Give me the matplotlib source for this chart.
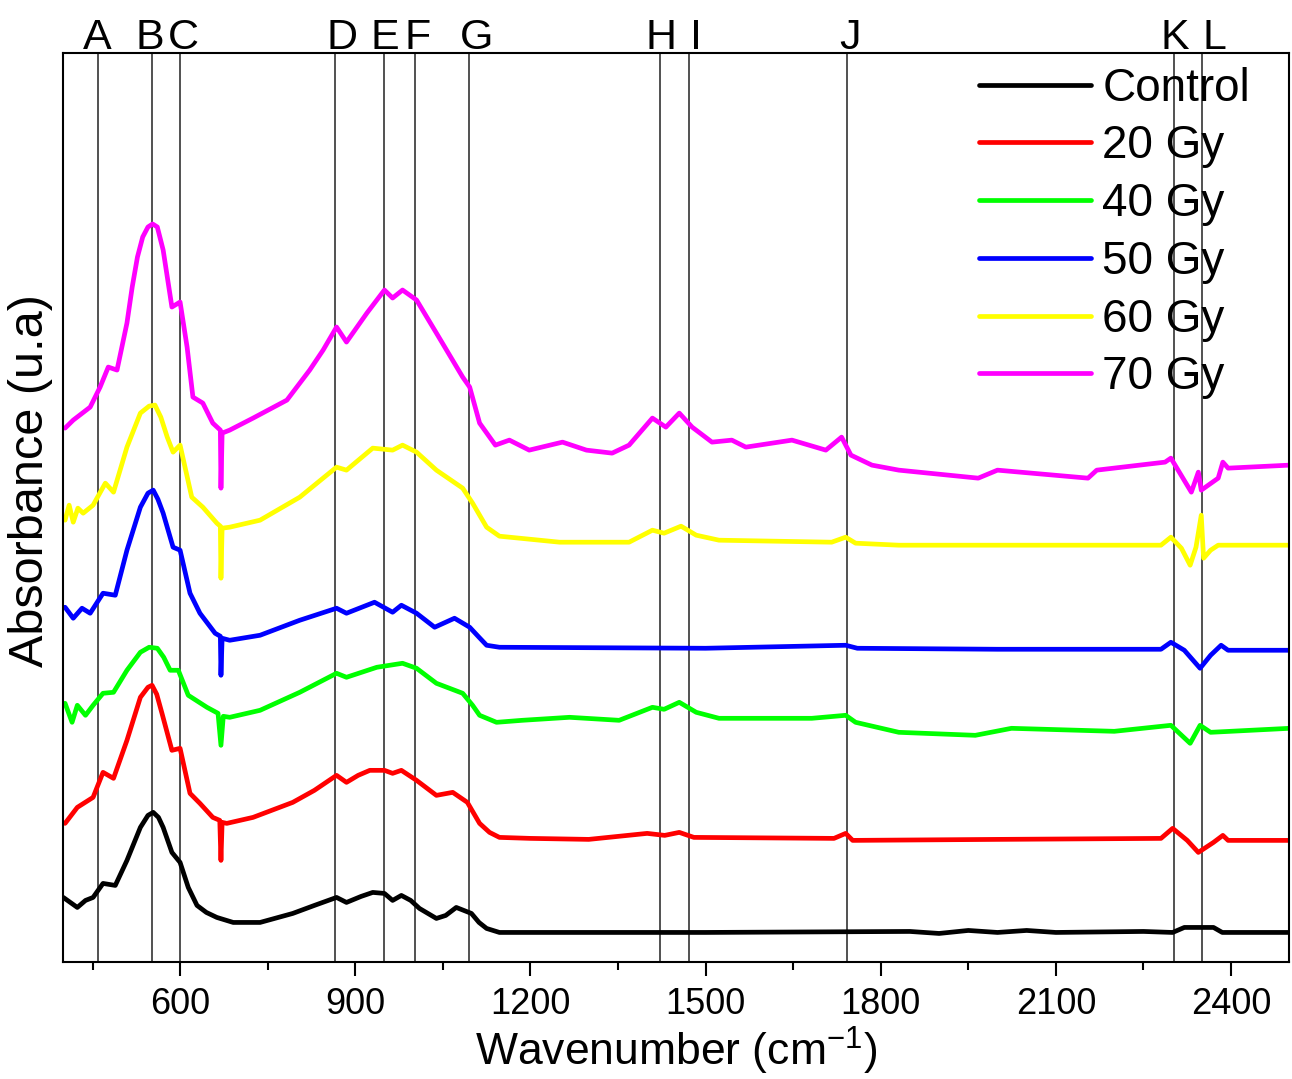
import matplotlib
matplotlib.use("Agg")
import matplotlib.pyplot as plt
from matplotlib.ticker import MultipleLocator

plt.rcParams['font.family'] = ['Liberation Sans', 'DejaVu Sans']
plt.rcParams['mathtext.fontset'] = 'custom'
plt.rcParams['mathtext.rm'] = 'Liberation Sans'
plt.rcParams['mathtext.it'] = 'Liberation Sans:italic'

# wavenumber (cm-1) / absorbance (u.a, stacked as in the figure)
wn_control = [400, 412, 424, 438, 451, 468, 489, 509, 532, 545, 554, 563, 571, 586, 600, 614, 629, 645,
              663, 691, 737, 793, 830, 868, 885, 910, 930, 950, 964, 979, 995, 1010, 1039, 1055, 1073,
              1099, 1112, 1125, 1147, 1500, 1850, 1900, 1950, 2000, 2050, 2100, 2250, 2300, 2320, 2370,
              2385, 2500]
ab_control = [0.065, 0.060, 0.055, 0.062, 0.065, 0.079, 0.077, 0.102, 0.135, 0.147, 0.150, 0.145, 0.135,
              0.110, 0.100, 0.075, 0.057, 0.050, 0.045, 0.040, 0.040, 0.049, 0.057, 0.065, 0.060, 0.066,
              0.070, 0.069, 0.062, 0.067, 0.062, 0.054, 0.044, 0.047, 0.055, 0.049, 0.040, 0.034, 0.030,
              0.030, 0.031, 0.029, 0.032, 0.030, 0.032, 0.030, 0.031, 0.030, 0.035, 0.035, 0.030, 0.030]

wn_20 = [403, 424, 451, 468, 486, 509, 532, 545, 552, 560, 569, 586, 600, 617, 634, 656, 668, 670, 672,
         680, 725, 793, 830, 868, 885, 905, 925, 950, 964, 979, 1005, 1039, 1067, 1092, 1113, 1130, 1147,
         1200, 1300, 1400, 1430, 1455, 1480, 1720, 1740, 1752, 2000, 2280, 2300, 2325, 2344, 2370, 2386,
         2395, 2500]
ab_20 = [0.139, 0.155, 0.165, 0.190, 0.184, 0.222, 0.265, 0.275, 0.277, 0.268, 0.249, 0.212, 0.214,
         0.169, 0.159, 0.145, 0.142, 0.102, 0.140, 0.139, 0.145, 0.160, 0.172, 0.187, 0.180, 0.187,
         0.192, 0.192, 0.189, 0.192, 0.182, 0.167, 0.170, 0.160, 0.139, 0.130, 0.125, 0.124, 0.123,
         0.129, 0.127, 0.130, 0.125, 0.124, 0.129, 0.122, 0.123, 0.124, 0.134, 0.122, 0.110, 0.120,
         0.127, 0.122, 0.122]

wn_40 = [403, 415, 424, 438, 451, 468, 486, 509, 532, 547, 561, 572, 583, 597, 614, 646, 665, 670, 674,
         685, 737, 805, 868, 885, 937, 981, 1005, 1039, 1084, 1101, 1113, 1142, 1186, 1267, 1352, 1409,
         1429, 1455, 1484, 1523, 1682, 1740, 1757, 1831, 1962, 2024, 2200, 2297, 2330, 2347, 2365, 2500]
ab_40 = [0.259, 0.240, 0.257, 0.247, 0.257, 0.269, 0.270, 0.292, 0.310, 0.315, 0.314, 0.305, 0.292,
         0.292, 0.267, 0.255, 0.249, 0.217, 0.246, 0.245, 0.252, 0.270, 0.289, 0.285, 0.295, 0.299,
         0.294, 0.279, 0.269, 0.257, 0.247, 0.240, 0.242, 0.245, 0.242, 0.255, 0.253, 0.260, 0.250,
         0.244, 0.244, 0.247, 0.240, 0.230, 0.227, 0.234, 0.231, 0.237, 0.219, 0.237, 0.230, 0.234]

wn_50 = [403, 417, 432, 446, 468, 489, 509, 532, 545, 554, 562, 571, 588, 600, 617, 634, 660, 669, 670,
         672, 685, 737, 805, 868, 885, 933, 964, 979, 1005, 1036, 1070, 1096, 1112, 1125, 1147, 1500,
         1740, 1760, 2000, 2280, 2297, 2320, 2347, 2365, 2383, 2395, 2500]
ab_50 = [0.355, 0.344, 0.354, 0.349, 0.369, 0.367, 0.412, 0.455, 0.469, 0.472, 0.463, 0.449, 0.415,
         0.412, 0.369, 0.349, 0.329, 0.326, 0.287, 0.324, 0.322, 0.327, 0.342, 0.354, 0.349, 0.360,
         0.350, 0.357, 0.349, 0.335, 0.344, 0.335, 0.325, 0.317, 0.315, 0.314, 0.317, 0.314, 0.313,
         0.313, 0.320, 0.312, 0.294, 0.307, 0.317, 0.312, 0.312]

wn_60 = [403, 410, 417, 425, 434, 451, 472, 486, 509, 532, 547, 557, 567, 578, 588, 600, 620, 639, 663,
         669, 670, 672, 685, 737, 805, 868, 885, 930, 964, 981, 1005, 1039, 1084, 1101, 1125, 1147, 1250,
         1369, 1409, 1429, 1458, 1484, 1523, 1716, 1740, 1757, 1831, 2280, 2297, 2315, 2330, 2340, 2349,
         2353, 2365, 2378, 2500]
ab_60 = [0.442, 0.457, 0.440, 0.454, 0.449, 0.457, 0.479, 0.470, 0.515, 0.549, 0.556, 0.557, 0.545,
         0.525, 0.510, 0.517, 0.465, 0.455, 0.439, 0.436, 0.384, 0.434, 0.435, 0.442, 0.465, 0.495,
         0.492, 0.514, 0.512, 0.517, 0.510, 0.492, 0.474, 0.459, 0.435, 0.426, 0.420, 0.420, 0.432,
         0.429, 0.436, 0.427, 0.422, 0.420, 0.425, 0.419, 0.417, 0.417, 0.425, 0.414, 0.397, 0.415,
         0.447, 0.404, 0.412, 0.417, 0.417]

wn_70 = [403, 417, 446, 463, 477, 492, 509, 518, 527, 536, 545, 553, 561, 571, 586, 600, 612, 622, 639,
         656, 669, 670, 672, 685, 725, 783, 822, 845, 868, 885, 920, 950, 964, 981, 1005, 1039, 1084,
         1096, 1113, 1140, 1164, 1198, 1255, 1296, 1340, 1369, 1409, 1432, 1455, 1477, 1511, 1545, 1569,
         1648, 1706, 1733, 1749, 1785, 1831, 1967, 2000, 2155, 2170, 2287, 2297, 2332, 2344, 2349, 2378,
         2386, 2395, 2500]
ab_70 = [0.534, 0.542, 0.555, 0.575, 0.595, 0.592, 0.639, 0.675, 0.705, 0.725, 0.735, 0.738, 0.735,
         0.712, 0.655, 0.660, 0.615, 0.565, 0.559, 0.539, 0.532, 0.474, 0.529, 0.532, 0.544, 0.562,
         0.592, 0.612, 0.635, 0.620, 0.649, 0.672, 0.664, 0.672, 0.662, 0.629, 0.585, 0.575, 0.539,
         0.517, 0.522, 0.512, 0.520, 0.512, 0.509, 0.517, 0.544, 0.535, 0.549, 0.535, 0.520, 0.522,
         0.515, 0.522, 0.512, 0.525, 0.507, 0.497, 0.492, 0.484, 0.492, 0.484, 0.492, 0.500, 0.504,
         0.470, 0.490, 0.472, 0.484, 0.500, 0.494, 0.497]

series = [
    ('Control', wn_control, ab_control, 'black'),
    ('20 Gy', wn_20, ab_20, 'red'),
    ('40 Gy', wn_40, ab_40, '#00ff00'),
    ('50 Gy', wn_50, ab_50, 'blue'),
    ('60 Gy', wn_60, ab_60, '#ffff00'),
    ('70 Gy', wn_70, ab_70, 'magenta'),
]

# band markers: line position and where its letter sits
band_letters = ['A', 'B', 'C', 'D', 'E', 'F', 'G', 'H', 'I', 'J', 'K', 'L']
band_pos = [460, 552, 600, 865, 950, 1002, 1095, 1422, 1472, 1742, 2303, 2350]
letter_pos = [458, 549, 605, 877, 950, 1007, 1108, 1424, 1484, 1747, 2304, 2371]

fig = plt.figure(figsize=(12.92, 10.79), dpi=100)
ax = fig.add_axes([0.049, 0.108, 0.949, 0.843])

for x in band_pos:
    ax.axvline(x, color='#333333', lw=1.2, zorder=1)

for name, x, y, c in series:
    ax.plot(x, y, color=c, lw=3.4, label=name, solid_capstyle='round',
            solid_joinstyle='round', zorder=2)

for lab, x in zip(band_letters, letter_pos):
    ax.text(x, 1.004, lab, transform=ax.get_xaxis_transform(), ha='center', va='baseline', fontsize=31)

ax.set_xlim(400, 2500)
ax.set_ylim(0, 0.909)
ax.set_yticks([])
ax.xaxis.set_major_locator(MultipleLocator(300))
ax.xaxis.set_minor_locator(MultipleLocator(150))
ax.set_xticks([600, 900, 1200, 1500, 1800, 2100, 2400])
ax.tick_params(axis='x', which='major', length=10, width=1.5, labelsize=26, pad=8)
ax.tick_params(axis='x', which='minor', length=6, width=1.5)
for s in ax.spines.values():
    s.set_linewidth(1.5)

ax.set_xlabel('Wavenumber (cm$^{-1}$)', fontsize=32, labelpad=2)
ax.set_ylabel('Absorbance (u.a)', fontsize=35)
ax.yaxis.set_label_coords(-0.008, 0.53)

leg = ax.legend(loc='upper right', bbox_to_anchor=(0.983, 1.005), frameon=False, fontsize=33,
                handlelength=2.45, handletextpad=0.25, labelspacing=0.3, borderaxespad=0.0)

fig.savefig('out.png', dpi=100)
